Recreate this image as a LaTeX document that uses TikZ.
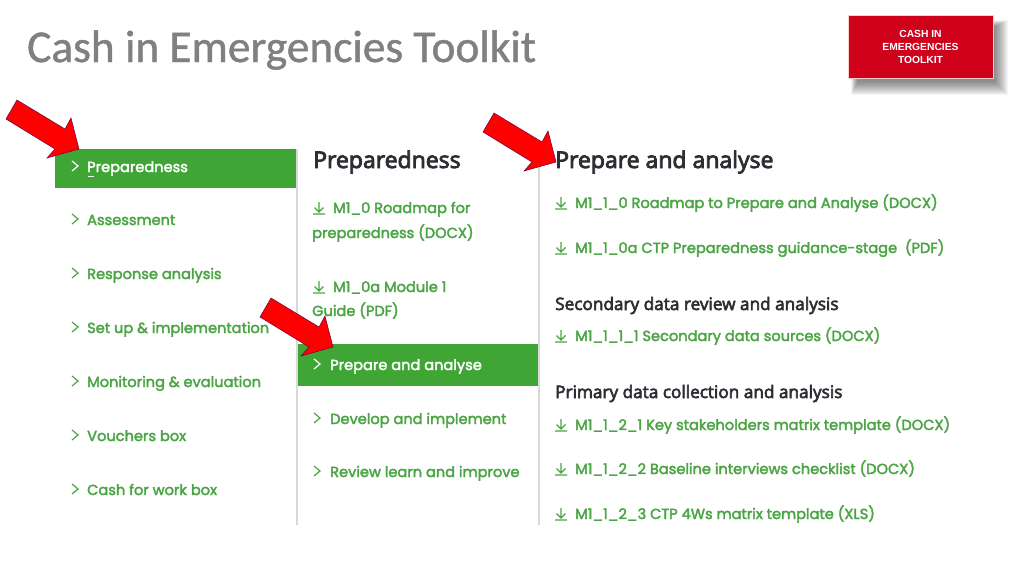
\documentclass[tikz,border=0pt]{standalone}
\usepackage{fontspec}
\setmainfont{Liberation Sans}
\newfontfamily\titlefont[FakeBold=1]{Carlito}
\newfontfamily\menufont[FakeBold=2.5]{Poppins}
\newfontfamily\headfont[FakeBold=3.5]{Open Sans}
\definecolor{leaf}{HTML}{3FA535}
\definecolor{leaftext}{HTML}{4BA544}
\definecolor{rulegray}{HTML}{D9D9D9}
\definecolor{inkdark}{HTML}{2B2F33}
\definecolor{logored}{HTML}{D0021B}
\tikzset{
    menu/.style={anchor=base west, inner sep=0pt, text=leaftext, font=\menufont\fontsize{14.6}{16}\selectfont},
    active/.style={menu, text=white},
    heading/.style={anchor=base west, inner sep=0pt, text=inkdark, font=\headfont\fontsize{23}{26}\selectfont},
    subheading/.style={anchor=base west, inner sep=0pt, text=inkdark, font=\headfont\fontsize{17.2}{20}\selectfont},
    redarrow/.style={fill=red, draw=red!60!blue!70!black, line width=0.5pt, line join=miter},
    chevronmark/.pic={\draw[line width=1.2pt, #1] (0,-11) -- ++(6,5) -- ++(-6,5);},
    dlmark/.pic={\draw[line width=1.1pt, leaftext] (6,-11) -- (6,-1) (1.5,-5.5) -- (6,-1) -- (10.5,-5.5) (0,1) -- (12,1);},
}
\begin{document}
\begin{tikzpicture}[x=1pt, y=-1pt]
    \useasboundingbox (0,0) rectangle (1024,576);
    \fill[white] (0,0) rectangle (1024,576);

    % title and logo
    \node[anchor=base west, inner sep=0pt, text=gray, font=\titlefont\fontsize{45.4}{50}\selectfont] (title) at (27,62) {Cash in Emergencies Toolkit};
    \foreach \s in {0,...,13} {
        \fill[black, opacity=0.04] ({851+0.5*\s},{20+0.5*\s}) rectangle ({1008-\s},{95-\s});
    }
    \node[draw=white!80!red, line width=0.6pt, fill=logored, text=white, inner sep=0pt, minimum width=145pt, minimum height=63pt, align=center, font=\bfseries\fontsize{10.3}{13}\selectfont] (logo) at (920.5,46.5) {CASH IN\\EMERGENCIES\\TOOLKIT};

    % column rules and active bars
    \draw[rulegray, line width=1.2pt] (297,149) -- (297,525);
    \draw[rulegray, line width=1.2pt] (539,150) -- (539,525);
    \fill[leaf] (55,149) rectangle (296,188);
    \fill[leaf] (298,344) rectangle (538,386);

    % first column
    \pic at (72,172) {chevronmark=white};
    \node[active] (preparedness) at (87,172) {Preparedness};
    \draw[white, line width=0.8pt] (88,176) -- (94,176);
    \pic at (72,225) {chevronmark=leaftext};
    \node[menu] (assessment) at (87,225) {Assessment};
    \pic at (72,279) {chevronmark=leaftext};
    \node[menu] (response) at (87,279) {Response analysis};
    \pic at (72,333) {chevronmark=leaftext};
    \node[menu] (setup) at (87,333) {Set up \& implementation};
    \pic at (72,387) {chevronmark=leaftext};
    \node[menu] (monitoring) at (87,387) {Monitoring \& evaluation};
    \pic at (72,441) {chevronmark=leaftext};
    \node[menu] (vouchers) at (87,441) {Vouchers box};
    \pic at (72,495) {chevronmark=leaftext};
    \node[menu] (cashwork) at (87,495) {Cash for work box};

    % second column
    \node[heading] (prephead) at (313,168) {Preparedness};
    \pic at (313,213) {dlmark};
    \node[menu] (roadmapa) at (333,213) {M1\_0 Roadmap for};
    \node[menu] (roadmapb) at (312,238) {preparedness (DOCX)};
    \pic at (313,292) {dlmark};
    \node[menu] (modulea) at (333,292) {M1\_0a Module 1};
    \node[menu] (moduleb) at (312,316) {Guide (PDF)};
    \pic at (314,370) {chevronmark=white};
    \node[active] (prepare) at (330,370) {Prepare and analyse};
    \pic at (314,424) {chevronmark=leaftext};
    \node[menu] (develop) at (330,424) {Develop and implement};
    \pic at (314,477) {chevronmark=leaftext};
    \node[menu] (review) at (330,477) {Review learn and improve};

    % third column
    \node[heading] (analysehead) at (555,168) {Prepare and analyse};
    \pic at (555,208) {dlmark};
    \node[menu] (fileroadmap) at (575,208) {M1\_1\_0 Roadmap to Prepare and Analyse (DOCX)};
    \pic at (555,253) {dlmark};
    \node[menu] (fileguide) at (575,253) {M1\_1\_0a CTP Preparedness guidance-stage~~(PDF)};
    \node[subheading] (secondary) at (555,310) {Secondary data review and analysis};
    \pic at (555,341) {dlmark};
    \node[menu] (filesources) at (575,341) {M1\_1\_1\_1 Secondary data sources (DOCX)};
    \node[subheading] (primary) at (555,398) {Primary data collection and analysis};
    \pic at (555,430) {dlmark};
    \node[menu] (filematrix) at (575,430) {M1\_1\_2\_1 Key stakeholders matrix template (DOCX)};
    \pic at (555,474) {dlmark};
    \node[menu] (filebaseline) at (575,474) {M1\_1\_2\_2 Baseline interviews checklist (DOCX)};
    \pic at (555,519) {dlmark};
    \node[menu] (fileworks) at (575,519) {M1\_1\_2\_3 CTP 4Ws matrix template (XLS)};

    % red arrows
    \coordinate (tipa) at (79,149);
    \coordinate (tipb) at (333,347);
    \coordinate (tipc) at (556,162);
    \draw[redarrow] (tipa) -- ++(-8,-31) -- ++(-6,11) -- ++(-48,-29) -- ++(-11,19) -- ++(49,30) -- ++(-8,9) -- cycle;
    \draw[redarrow] (tipb) -- ++(-8,-31) -- ++(-6,11) -- ++(-48,-29) -- ++(-11,19) -- ++(49,30) -- ++(-8,9) -- cycle;
    \draw[redarrow] (tipc) -- ++(-8,-31) -- ++(-6,11) -- ++(-48,-29) -- ++(-11,19) -- ++(49,30) -- ++(-8,9) -- cycle;
\end{tikzpicture}
\end{document}
